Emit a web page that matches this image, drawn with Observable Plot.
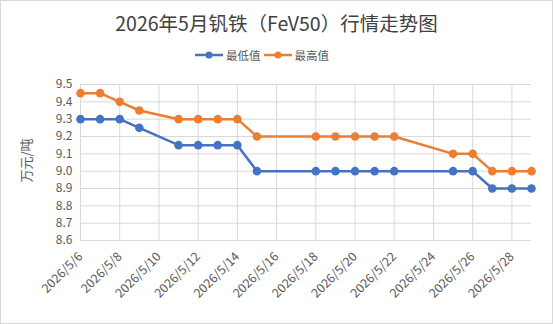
<!DOCTYPE html>
<html><head><meta charset="utf-8">
<script src="https://cdn.jsdelivr.net/npm/d3@7"></script>
<script src="https://cdn.jsdelivr.net/npm/@observablehq/plot@0.6"></script>
<style>
body{margin:0;background:#fff;font-family:"Noto Sans CJK SC","Noto Sans",sans-serif;}
#box{position:relative;width:553px;height:324px;box-sizing:border-box;border:1px solid #d9d9d9;background:#fff;overflow:hidden;}
#title{position:absolute;left:0;right:0;top:7px;text-align:center;font-size:19.5px;color:#404040;}
#legend{position:absolute;left:194px;top:46px;display:flex;align-items:center;font-size:11.5px;color:#595959;}
.item{display:flex;align-items:center;margin-right:3px;}
#chart{position:absolute;left:0;top:70px;}
</style></head>
<body><div id="box"><div id="title">2026年5月钒铁（FeV50）行情走势图</div><div id="legend"></div><div id="chart"></div></div>
<script>
const dates = ["2026-05-06","2026-05-07","2026-05-08","2026-05-09","2026-05-11","2026-05-12","2026-05-13","2026-05-14","2026-05-15","2026-05-18","2026-05-19","2026-05-20","2026-05-21","2026-05-22","2026-05-25","2026-05-26","2026-05-27","2026-05-28","2026-05-29"];
const lowValues = [9.3,9.3,9.3,9.25,9.15,9.15,9.15,9.15,9.0,9.0,9.0,9.0,9.0,9.0,9.0,9.0,8.9,8.9,8.9];
const highValues = [9.45,9.45,9.4,9.35,9.3,9.3,9.3,9.3,9.2,9.2,9.2,9.2,9.2,9.2,9.1,9.1,9.0,9.0,9.0];
const seriesNames = ["最低值","最高值"];
const colors = ["#4472C4","#ED7D31"];
const yTicks = [8.6,8.7,8.8,8.9,9.0,9.1,9.2,9.3,9.4,9.5];
const xTickDates = ["2026-05-06","2026-05-08","2026-05-10","2026-05-12","2026-05-14","2026-05-16","2026-05-18","2026-05-20","2026-05-22","2026-05-24","2026-05-26","2026-05-28"];
const yLabel = "万元/吨";

const parse = d3.utcParse("%Y-%m-%d");
const rows = [];
dates.forEach((d,i)=>{
  rows.push({date:parse(d), value:lowValues[i], s:seriesNames[0]});
  rows.push({date:parse(d), value:highValues[i], s:seriesNames[1]});
});
const xt = xTickDates.map(parse);
const fmt = d => `${d.getUTCFullYear()}/${d.getUTCMonth()+1}/${d.getUTCDate()}`;

const plot = Plot.plot({
  width: 551, height: 253,
  marginLeft: 79, marginRight: 21, marginTop: 13, marginBottom: 84,
  style:{fontFamily:'"Noto Sans CJK SC","Noto Sans",sans-serif', fontSize:"11px", color:"#595959", background:"transparent"},
  x:{type:"utc", domain:[parse(dates[0]), parse(dates[dates.length-1])]},
  y:{domain:[8.6,9.5]},
  color:{domain:seriesNames, range:colors},
  marks:[
    Plot.gridX(xt,{stroke:"#d9d9d9", strokeOpacity:1}),
    Plot.gridY(yTicks,{stroke:"#d9d9d9", strokeOpacity:1}),
    Plot.axisY(yTicks,{tickSize:0, tickPadding:8, tickFormat:d=>d.toFixed(1), label:null, fontSize:12}),
    Plot.axisX(xt,{tickSize:0, tickRotate:-45, tickPadding:14, tickFormat:fmt, label:null, fontSize:12.5}),
    Plot.text([yLabel],{frameAnchor:"left", dx:-54, dy:20, rotate:-90, fontSize:13, fill:"#595959"}),
    Plot.line(rows,{x:"date", y:"value", stroke:"s", strokeWidth:2.5}),
    Plot.dot(rows,{x:"date", y:"value", fill:"s", r:4.3})
  ]
});
document.getElementById("chart").appendChild(plot);

const lg = document.getElementById("legend");
seriesNames.forEach((n,i)=>{
  const it = document.createElement("div"); it.className="item";
  it.innerHTML = `<svg width="28" height="10"><line x1="0" y1="5" x2="28" y2="5" stroke="${colors[i]}" stroke-width="2.5"/><circle cx="14" cy="5" r="3.5" fill="${colors[i]}"/></svg><span style="margin-left:3px">${n}</span>`;
  lg.appendChild(it);
});
</script></body></html>
